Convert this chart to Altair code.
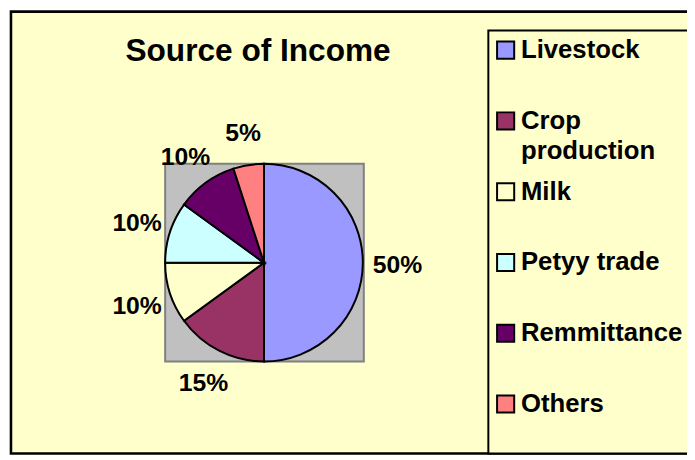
import altair as alt
import pandas as pd

categories = ["Livestock", "Crop production", "Milk", "Petyy trade", "Remmittance", "Others"]
shares = [50, 15, 10, 10, 10, 5]
legend_labels = ["Livestock", "Crop\nproduction", "Milk", "Petyy trade", "Remmittance", "Others"]
colors = ["#9999FF", "#993366", "#FFFFCC", "#CCFFFF", "#660066", "#FF8080"]
title_text = "Source of Income"

df = pd.DataFrame({
    "Source": categories,
    "share": shares,
    "legend": legend_labels,
    "idx": list(range(len(categories))),
})
one = pd.DataFrame({"a": [0]})

FONT = "Liberation Sans"
color_scale = alt.Scale(domain=categories, range=colors)
CX, CY = 259, 255

outer = alt.Chart(one).mark_rect(fill="#FFFFCC", stroke="black", strokeWidth=2.6).encode(
    x=alt.value(3), x2=alt.value(740), y=alt.value(1), y2=alt.value(448)
)
legend_box = alt.Chart(one).mark_rect(fill="#FFFFCC", stroke="black", strokeWidth=2).encode(
    x=alt.value(486), x2=alt.value(740), y=alt.value(20), y2=alt.value(448)
)
title = alt.Chart(one).mark_text(
    text=title_text, font=FONT, fontSize=32, fontWeight="bold", align="center",
    baseline="alphabetic", color="black"
).encode(x=alt.value(253), y=alt.value(51))

plot_bg = alt.Chart(one).mark_rect(fill="#C0C0C0", stroke="#808080", strokeWidth=2).encode(
    x=alt.value(159), x2=alt.value(360), y=alt.value(155), y2=alt.value(355)
)

pie = alt.Chart(df).mark_arc(radius=100, stroke="black", strokeWidth=2).encode(
    theta=alt.Theta("share:Q", stack=True),
    order=alt.Order("idx:Q"),
    color=alt.Color("Source:N", scale=color_scale, legend=None),
    x=alt.value(CX), y=alt.value(CY),
)

labels = alt.Chart(df).transform_calculate(
    lab="datum.share + '%'"
).mark_text(
    radius=135, font=FONT, fontSize=25, fontWeight="bold", color="black",
    align="center", baseline="middle"
).encode(
    theta=alt.Theta("share:Q", stack=True),
    order=alt.Order("idx:Q"),
    detail="Source:N",
    text="lab:N",
    x=alt.value(CX), y=alt.value(CY + 2),
)

ypos = alt.Y("Source:N", sort=categories,
             scale=alt.Scale(type="point", domain=categories, range=[40, 398], padding=0),
             axis=None)

leg_sym = alt.Chart(df).mark_square(size=300, stroke="black", strokeWidth=2, opacity=1).encode(
    x=alt.value(503.5), y=ypos,
    color=alt.Color("Source:N", scale=color_scale, legend=None),
)
leg_txt = alt.Chart(df).mark_text(
    align="left", baseline="middle", lineBreak="\n", lineHeight=31,
    font=FONT, fontSize=26, fontWeight="bold", color="black"
).encode(x=alt.value(519), y=ypos, text="legend:N")

chart = alt.layer(outer, legend_box, title, plot_bg, pie, labels, leg_sym, leg_txt).properties(
    width=687, height=452,
    autosize=alt.AutoSizeParams(type="none"),
    padding=0,
    background="white",
).configure_view(stroke=None)

chart.save("out.html", embed_options={"renderer": "svg", "actions": False})
